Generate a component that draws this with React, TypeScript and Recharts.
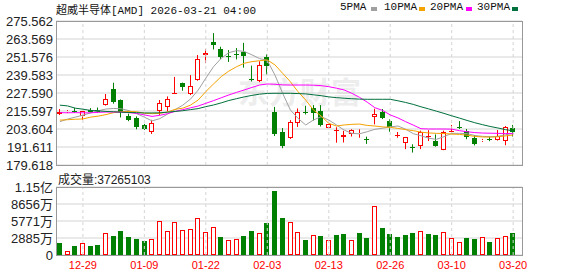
import { ComposedChart, Bar, Line, XAxis, YAxis, CartesianGrid, ReferenceLine } from 'recharts';

// trading days shown on the chart
const dates = [
  '12-23', '12-24', '12-26', '12-29', '12-30', '12-31', '01-02', '01-05', '01-06', '01-07',
  '01-08', '01-09', '01-12', '01-13', '01-14', '01-15', '01-16', '01-20', '01-21', '01-22',
  '01-23', '01-26', '01-27', '01-28', '01-29', '01-30', '02-02', '02-03', '02-04', '02-05',
  '02-06', '02-09', '02-10', '02-11', '02-12', '02-13', '02-17', '02-18', '02-19', '02-20',
  '02-23', '02-24', '02-25', '02-26', '02-27', '03-02', '03-03', '03-04', '03-05', '03-06',
  '03-09', '03-10', '03-11', '03-12', '03-13', '03-16', '03-17', '03-18', '03-19', '03-20',
];

const opens = [
  213.6, 214.6, 215.6, 212.0, 216.2, 216.0, 219.4, 230.2, 223.0, 212.5,
  211.0, 206.0, 201.5, 215.4, 218.0, 227.5, 234.2, 226.6, 236.3, 252.8,
  261.8, 256.7, 252.3, 253.4, 254.8, 237.0, 235.6, 251.8, 215.1, 201.8,
  197.5, 207.5, 214.8, 217.4, 215.7, 204.2, 202.7, 198.1, 200.1, 200.6,
  197.0, 211.8, 214.7, 208.9, 199.4, 194.2, 191.6, 192.0, 198.8, 195.4,
  189.8, 202.3, 204.7, 202.4, 197.8, 195.5, 196.9, 196.4, 195.7, 204.6,
];
const highs = [
  216.9, 216.2, 217.6, 215.6, 217.5, 217.9, 226.9, 234.4, 223.3, 213.8,
  212.0, 207.0, 209.7, 222.9, 225.3, 238.3, 234.5, 239.5, 252.9, 256.8,
  267.5, 258.4, 256.2, 257.5, 261.0, 245.8, 248.7, 253.3, 218.3, 204.2,
  209.5, 217.3, 219.1, 219.5, 219.5, 206.9, 204.8, 202.4, 203.4, 203.4,
  198.5, 217.1, 216.9, 210.0, 201.6, 198.3, 193.4, 202.5, 202.8, 200.0,
  202.5, 206.3, 208.9, 203.6, 199.5, 197.0, 198.6, 202.9, 205.6, 206.3,
];
const lows = [
  212.9, 214.3, 214.3, 209.8, 214.5, 214.3, 219.2, 220.5, 211.3, 208.8,
  203.4, 203.0, 200.3, 213.0, 215.3, 227.3, 229.1, 226.2, 235.8, 247.5,
  256.6, 250.1, 248.3, 250.0, 244.5, 235.3, 234.8, 240.0, 198.9, 190.8,
  197.0, 205.0, 213.3, 209.3, 205.3, 204.1, 194.5, 194.6, 198.6, 197.8,
  193.7, 206.7, 210.2, 201.8, 197.8, 190.2, 187.9, 190.2, 195.6, 191.8,
  189.5, 201.8, 203.6, 196.8, 192.7, 195.0, 195.5, 195.9, 192.8, 198.6,
];
const closes = [
  215.0, 215.6, 215.1, 215.3, 215.0, 214.8, 223.5, 221.3, 214.6, 209.8,
  204.7, 203.7, 207.6, 220.8, 223.6, 227.9, 231.9, 232.1, 250.0, 254.4,
  259.8, 251.8, 252.0, 252.9, 252.4, 236.3, 246.3, 245.5, 200.4, 192.5,
  208.2, 215.0, 214.2, 214.4, 206.0, 206.8, 203.0, 199.7, 202.7, 200.9,
  196.5, 213.6, 211.2, 204.8, 199.8, 198.1, 191.2, 201.5, 199.2, 192.6,
  201.9, 202.6, 204.4, 198.6, 193.5, 196.6, 196.5, 199.2, 204.7, 201.5,
];
// close of the day before the first candle (sets the first volume colour)
const prevClose = 215.8;

// volume in 万股
const volumes = [
  2040, 630, 1530, 1980, 1530, 1700, 3680, 3220, 4070, 3050,
  2720, 2380, 2720, 5720, 4070, 5550, 4190, 4360, 6280, 3850,
  4750, 3050, 2490, 2660, 3220, 4070, 3680, 5430, 10860, 6280,
  5550, 3850, 2490, 3340, 3220, 2490, 3390, 3560, 2490, 3730,
  2880, 8320, 4580, 3560, 3050, 3390, 3730, 4020, 3560, 3390,
  3850, 2880, 2210, 2880, 2720, 3050, 2210, 2880, 3220, 3726.5103,
];

const ma5 = [
  208.5, 210.2, 211.5, 212.8, 214.3, 215.8, 216.9, 217.3, 217.1, 215.8,
  213.8, 211.5, 209.0, 210.5, 213.5, 216.5, 219.5, 223.5, 229.5, 237.5,
  245.1, 250.7, 254.5, 255.8, 255.3, 253.0, 250.5, 249.3, 239.5, 227.4,
  216.3, 210.7, 206.3, 209.6, 211.8, 209.6, 206.3, 202.9, 200.7, 200.4,
  201.8, 203.4, 204.1, 205.0, 205.6, 203.5, 200.5, 199.1, 197.5, 196.7,
  198.5, 200.7, 200.7, 200.5, 199.3, 198.7, 198.5, 198.7, 199.8, 200.7,
];
const ma10 = [
  209.5, 209.8, 210.1, 210.3, 211.5, 212.2, 213.2, 214.5, 215.2, 215.3,
  215.1, 214.1, 213.8, 214.0, 214.9, 216.7, 217.5, 219.5, 222.9, 228.5,
  233.6, 238.5, 242.2, 245.1, 247.4, 248.5, 249.1, 249.6, 246.3, 240.7,
  235.1, 228.5, 222.9, 216.3, 212.3, 207.4, 205.6, 206.3, 206.7, 206.9,
  206.0, 205.6, 205.0, 204.7, 204.0, 203.2, 202.5, 201.5, 201.0, 200.7,
  200.6, 200.2, 200.0, 199.5, 198.7, 198.3, 198.2, 198.4, 199.0, 199.6,
];
const ma20 = [
  214.5, 214.4, 214.5, 214.4, 214.4, 214.7, 214.9, 214.9, 214.8, 214.5,
  214.0, 213.0, 212.0, 212.7, 213.8, 215.3, 216.5, 217.7, 218.9, 220.7,
  222.5, 224.4, 226.3, 228.0, 229.6, 231.3, 232.9, 233.6, 233.4, 233.0,
  232.9, 232.9, 232.9, 232.8, 232.5, 231.8, 230.8, 229.6, 227.4, 224.7,
  221.5, 217.8, 216.0, 213.0, 211.0, 208.5, 206.2, 203.8, 203.6, 203.6,
  203.6, 203.5, 202.5, 201.8, 201.2, 200.9, 200.8, 200.7, 200.6, 200.5,
];
const ma30 = [
  219.5, 219.0, 217.5, 216.8, 216.0, 215.7, 215.3, 215.1, 214.8, 214.6,
  214.5, 214.3, 214.3, 214.4, 214.8, 215.3, 215.8, 216.5, 217.2, 218.5,
  219.6, 221.0, 222.6, 223.8, 225.0, 226.0, 226.8, 227.3, 227.4, 227.4,
  227.4, 227.2, 227.0, 226.4, 225.8, 225.0, 224.5, 224.1, 223.8, 223.5,
  223.4, 223.4, 223.4, 223.4, 222.4, 221.3, 220.0, 218.4, 217.0, 215.5,
  214.0, 212.4, 210.9, 209.3, 207.8, 206.5, 205.3, 204.3, 203.2, 202.3,
];

const priceTicks = [179.618, 191.611, 203.604, 215.597, 227.59, 239.583, 251.576, 263.569, 275.562];
const volumeTicks = [0, 2885, 5771, 8656, 11541];
const xLabels = ['12-29', '01-09', '01-22', '02-03', '02-13', '02-26', '03-10', '03-20'];

const RED = '#ff0000';
const GREEN = '#008000';
const GRID = '#d4d4d4';
const AXIS_FONT = "'Liberation Sans', 'Noto Sans CJK SC', sans-serif";
const MONO_FONT = "'Liberation Mono', 'Noto Sans CJK SC', monospace";

const Candle = (props: any) => {
  const { x, y, width, height, payload } = props;
  const { open, close, high, low } = payload;
  const top = Math.min(y, y + height);
  const h = Math.abs(height);
  const k = high === low ? 0 : h / (high - low);
  const py = (v: number) => top + (high - v) * k;
  const n = Math.floor(x + width / 2);
  const cx = n + 0.5;
  const up = close >= open;
  const color = up ? RED : GREEN;
  const bTop = Math.round(py(Math.max(open, close)));
  const bBot = Math.round(py(Math.min(open, close)));
  const yHigh = py(high);
  const yLow = py(low);

  if (bBot - bTop < 1) {
    return (
      <g>
        <line x1={cx} x2={cx} y1={yHigh} y2={yLow} stroke={color} />
        <line x1={n - 2} x2={n + 3} y1={bTop + 0.5} y2={bTop + 0.5} stroke={color} />
      </g>
    );
  }
  if (up) {
    return (
      <g>
        <line x1={cx} x2={cx} y1={yHigh} y2={bTop} stroke={color} />
        <line x1={cx} x2={cx} y1={bBot} y2={yLow} stroke={color} />
        <rect x={n - 1.5} y={bTop + 0.5} width={4} height={bBot - bTop - 1} fill="#fff" stroke={color} />
      </g>
    );
  }
  return (
    <g>
      <line x1={cx} x2={cx} y1={yHigh} y2={yLow} stroke={color} />
      <rect x={n - 2} y={bTop} width={5} height={bBot - bTop} fill={color} />
    </g>
  );
};

const VolumeBar = (props: any) => {
  const { x, y, width, height, payload } = props;
  const n = Math.floor(x + width / 2);
  const top = Math.round(y);
  const bottom = Math.round(y + height);
  if (payload.volUp) {
    return (
      <rect x={n - 1.5} y={top + 0.5} width={4} height={bottom - top - 1} fill="#fff" stroke={RED} />
    );
  }
  return <rect x={n - 2} y={top} width={5} height={bottom - top} fill={GREEN} />;
};

const formatVolume = (v: number) => {
  if (v === 0) return '0';
  if (v >= 10000) return `${(v / 10000).toFixed(2)}亿`;
  return `${Math.round(v)}万`;
};

const legend = [
  { name: '5PMA', color: '#a0a0a0', x: 340, box: 371 },
  { name: '10PMA', color: '#f5a300', x: 384, box: 419 },
  { name: '20PMA', color: '#ff00ff', x: 430, box: 466 },
  { name: '30PMA', color: '#00703c', x: 477, box: 512 },
];

export default function App() {
  const rows = dates.map((date, i) => ({
    date,
    range: [lows[i], highs[i]],
    open: opens[i],
    high: highs[i],
    low: lows[i],
    close: closes[i],
    volume: volumes[i],
    volUp: closes[i] >= (i === 0 ? prevClose : closes[i - 1]),
    ma5: ma5[i],
    ma10: ma10[i],
    ma20: ma20[i],
    ma30: ma30[i],
  }));

  const axisTick = { fontSize: 13, fill: '#222', fontFamily: AXIS_FONT };

  return (
    <div style={{ position: 'absolute', left: 0, top: 0, width: 578, height: 276, background: '#fff', overflow: 'hidden' }}>
      <div style={{ position: 'absolute', left: 56, top: 1, fontSize: 11, fontFamily: MONO_FONT, color: '#111', whiteSpace: 'nowrap' }}>
        超威半导体[AMD] 2026-03-21 04:00
      </div>
      {legend.map((l) => (
        <div key={l.name}>
          <div style={{ position: 'absolute', left: l.x, top: 1, fontSize: 11, fontFamily: MONO_FONT, color: '#111' }}>
            {l.name}
          </div>
          <div style={{ position: 'absolute', left: l.box, top: 7, width: 6, height: 4, background: l.color }} />
        </div>
      ))}

      <div style={{ position: 'absolute', left: 238, top: 68, fontSize: 30, fontWeight: 700, color: '#ededed', fontFamily: "'Noto Sans CJK SC', sans-serif", letterSpacing: 1 }}>
        东方财富
      </div>

      <div style={{ position: 'absolute', left: 0, top: 0 }}>
        <ComposedChart width={578} height={180} data={rows} margin={{ top: 21, right: 56, bottom: 15, left: 0 }}>
          <CartesianGrid vertical={false} stroke={GRID} />
          <XAxis dataKey="date" hide padding={{ left: 0, right: 5 }} />
          <YAxis
            width={56}
            domain={[179.618, 275.562]}
            ticks={priceTicks}
            interval={0}
            tickFormatter={(v: number) => v.toFixed(3)}
            axisLine={false}
            tickLine={false}
            tickSize={0}
            tickMargin={3}
            tick={axisTick}
            allowDataOverflow
          />
          {xLabels.map((d) => (
            <ReferenceLine key={d} x={d} stroke={GRID} strokeDasharray="3 3" />
          ))}
          <Bar dataKey="range" barSize={5} shape={<Candle />} isAnimationActive={false} />
          <Line dataKey="ma5" stroke="#a0a0a0" strokeWidth={1} dot={false} activeDot={false} isAnimationActive={false} />
          <Line dataKey="ma10" stroke="#f5a300" strokeWidth={1} dot={false} activeDot={false} isAnimationActive={false} />
          <Line dataKey="ma20" stroke="#ff00ff" strokeWidth={1} dot={false} activeDot={false} isAnimationActive={false} />
          <Line dataKey="ma30" stroke="#00703c" strokeWidth={1} dot={false} activeDot={false} isAnimationActive={false} />
        </ComposedChart>
      </div>

      <div style={{ position: 'absolute', left: 58, top: 170, fontSize: 12, fontFamily: AXIS_FONT, color: '#222', whiteSpace: 'nowrap' }}>
        成交量:37265103
      </div>

      <div style={{ position: 'absolute', left: 0, top: 165 }}>
        <ComposedChart width={578} height={111} data={rows} margin={{ top: 22, right: 56, bottom: 0, left: 0 }}>
          <CartesianGrid vertical={false} stroke={GRID} />
          <XAxis
            dataKey="date"
            padding={{ left: 0, right: 5 }}
            interval={0}
            height={21}
            axisLine={false}
            tickLine={false}
            tickSize={0}
            tickMargin={6}
            tickFormatter={(v: string) => (xLabels.includes(v) ? v : '')}
            tick={{ fontSize: 11, fill: RED, fontFamily: AXIS_FONT }}
          />
          <YAxis
            width={56}
            domain={[0, 11541]}
            ticks={volumeTicks}
            interval={0}
            tickFormatter={formatVolume}
            axisLine={false}
            tickLine={false}
            tickSize={0}
            tickMargin={3}
            tick={axisTick}
            allowDataOverflow
          />
          {xLabels.map((d) => (
            <ReferenceLine key={d} x={d} stroke={GRID} strokeDasharray="3 3" />
          ))}
          <Bar dataKey="volume" barSize={5} shape={<VolumeBar />} isAnimationActive={false} />
        </ComposedChart>
      </div>

      <div style={{ position: 'absolute', left: 56, top: 21, width: 467, height: 145, border: '1px solid #999', boxSizing: 'border-box' }} />
      <div style={{ position: 'absolute', left: 56, top: 187, width: 467, height: 69, border: '1px solid #999', boxSizing: 'border-box' }} />
    </div>
  );
}
